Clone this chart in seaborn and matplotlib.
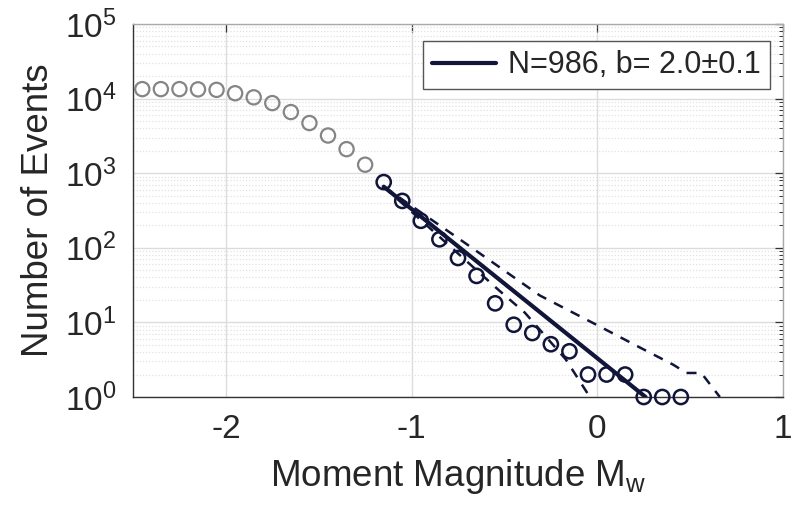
import numpy as np
import pandas as pd
import matplotlib
matplotlib.use("Agg")
import matplotlib.pyplot as plt
import matplotlib.ticker as mticker
import seaborn as sns

# binned magnitudes (bin centres) and counts
mag_all = [-2.45, -2.35, -2.25, -2.15, -2.05, -1.95, -1.85, -1.75, -1.65,
           -1.55, -1.45, -1.35, -1.25]
count_all = [13400, 13400, 13400, 13300, 13100, 11800, 10400, 8700, 6600,
             4700, 3200, 2100, 1300]

mag_fit = [-1.15, -1.05, -0.95, -0.85, -0.75, -0.65, -0.55, -0.45, -0.35,
           -0.25, -0.15, -0.05, 0.05, 0.15, 0.25, 0.35, 0.45]
count_fit = [760, 425, 230, 130, 73, 42, 18, 9.3, 7.2, 5.1, 4.1, 2, 2, 2,
             1, 1, 1]

# Gutenberg-Richter fit and its bounds
line_x = [-1.15, 0.26]
line_n = [660, 1.0]
upper_x = [-1.15, -0.75, -0.31, 0.01, 0.23, 0.41, 0.48, 0.56, 0.66]
upper_n = [660, 135, 23, 8.9, 4.6, 2.7, 2.1, 2.1, 1.0]
lower_x = [-1.15, -0.53, -0.39, -0.17, -0.04]
lower_n = [660, 27, 13.5, 3.2, 1.0]

legend_label = "N=986, b= 2.0\u00b10.1"

navy = "#111539"
grey = "#858585"

sns.set_style("whitegrid")
plt.rcParams["font.family"] = ["Liberation Sans", "DejaVu Sans"]
plt.rcParams["mathtext.fontset"] = "custom"
plt.rcParams["mathtext.rm"] = "Liberation Sans"
plt.rcParams["mathtext.it"] = "Liberation Sans:italic"
plt.rcParams["mathtext.bf"] = "Liberation Sans:bold"

fig = plt.figure(figsize=(7.97, 5.08), dpi=100)
ax = fig.add_axes([133 / 797, 1 - 397 / 508, 650 / 797, 373 / 508])

sns.scatterplot(x=mag_all, y=count_all, ax=ax, marker="o", s=105,
                facecolor="none", edgecolor=grey, linewidth=1.6, zorder=3,
                clip_on=False)
sns.scatterplot(x=mag_fit, y=count_fit, ax=ax, marker="o", s=105,
                facecolor="none", edgecolor=navy, linewidth=1.8, zorder=3,
                clip_on=False)

sns.lineplot(x=line_x, y=line_n, ax=ax, color=navy, linewidth=3.0,
             label=legend_label, zorder=4)
sns.lineplot(x=upper_x, y=upper_n, ax=ax, color=navy, linewidth=1.8,
             linestyle=(0, (4, 3.5)), label="_nolegend_", zorder=4)
sns.lineplot(x=lower_x, y=lower_n, ax=ax, color=navy, linewidth=1.8,
             linestyle=(0, (4, 3.5)), label="_nolegend_", zorder=4)

ax.set_yscale("log")
ax.set_xlim(-2.5, 1)
ax.set_ylim(1, 1e5)
ax.set_xticks([-2, -1, 0, 1])
ax.set_xticklabels(["-2", "-1", "0", "1"])
ax.yaxis.set_major_locator(mticker.LogLocator(base=10, numticks=10))
ax.yaxis.set_minor_locator(mticker.LogLocator(base=10, subs=np.arange(2, 10), numticks=20))
ax.yaxis.set_major_formatter(mticker.LogFormatterMathtext())
ax.yaxis.set_minor_formatter(mticker.NullFormatter())

ax.grid(True, which="major", color="#dcdcdc", linewidth=1.0, linestyle="-")
ax.grid(True, which="minor", axis="y", color="#e2e2e2", linewidth=0.9,
        linestyle=(0, (1, 1.5)))
ax.set_axisbelow(True)

for side in ["left", "bottom", "top", "right"]:
    ax.spines[side].set_visible(True)
    ax.spines[side].set_linewidth(1.0)
ax.spines["left"].set_color("#333333")
ax.spines["bottom"].set_color("#333333")
ax.spines["top"].set_color("#aaaaaa")
ax.spines["right"].set_color("#aaaaaa")

ax.tick_params(axis="both", which="both", direction="in", top=True, right=True,
               colors="#333333", labelcolor="#262626")
ax.tick_params(axis="both", which="major", length=6, width=0.9, labelsize=24, pad=12)
ax.tick_params(axis="y", which="minor", length=3, width=0.7)

ax.set_xlabel("Moment Magnitude M$_\\mathrm{w}$", fontsize=26.5, color="#262626",
              labelpad=9)
ax.set_ylabel("Number of Events", fontsize=26.5, color="#262626", labelpad=6)

leg = ax.legend(loc="upper right", bbox_to_anchor=(0.98, 0.954), borderaxespad=0,
                fontsize=22, frameon=True, fancybox=False, framealpha=1,
                edgecolor="#555555", handlelength=2.1, handletextpad=0.4,
                borderpad=0.3)
leg.get_frame().set_linewidth(1.0)

fig.savefig("out.png", dpi=100)
